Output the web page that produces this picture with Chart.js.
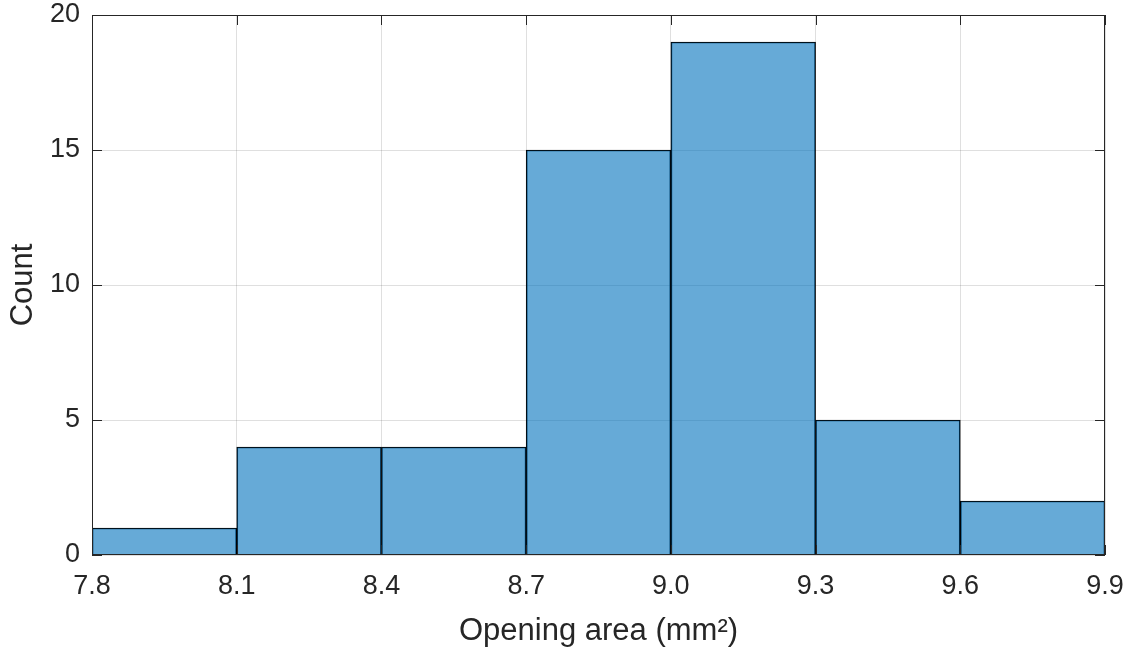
<!DOCTYPE html>
<html>
<head>
<meta charset="utf-8">
<script src="https://cdn.jsdelivr.net/npm/chart.js@4"></script>
<style>
  html, body { margin: 0; padding: 0; background: #fff; }
  #wrap { width: 1135px; height: 654px; }
</style>
</head>
<body>
<div id="wrap"><canvas id="histChart"></canvas></div>
<script>
// histogram bins (edges every 0.3 mm^2)
var binCenters = [7.95, 8.25, 8.55, 8.85, 9.15, 9.45, 9.75];
var counts = [1, 4, 4, 15, 19, 5, 2];
var xTicks = [7.8, 8.1, 8.4, 8.7, 9.0, 9.3, 9.6, 9.9];
var yTicks = [0, 5, 10, 15, 20];

var axisColor = '#262626';
var gridColor = 'rgba(38,38,38,0.15)';
var fontFamily = '"Liberation Sans", Arial, Helvetica, sans-serif';

// box around the axes with inward ticks, like MATLAB "box on"
var boxPlugin = {
    id: 'box',
    afterDraw: function(chart) {
        var ctx = chart.ctx;
        var a = chart.chartArea;
        var xs = chart.scales.x, ys = chart.scales.y;
        var len = 10;
        ctx.save();
        ctx.strokeStyle = axisColor;
        ctx.lineWidth = 1;
        ctx.strokeRect(a.left + 0.5, a.top + 0.5, a.right - a.left - 1, a.bottom - a.top - 1);
        ctx.beginPath();
        xTicks.forEach(function(v) {
            var px = Math.round(xs.getPixelForValue(v)) + 0.5;
            ctx.moveTo(px, a.bottom); ctx.lineTo(px, a.bottom - len);
            ctx.moveTo(px, a.top); ctx.lineTo(px, a.top + len);
        });
        yTicks.forEach(function(v) {
            var py = Math.round(ys.getPixelForValue(v)) + 0.5;
            ctx.moveTo(a.left, py); ctx.lineTo(a.left + len, py);
            ctx.moveTo(a.right, py); ctx.lineTo(a.right - len, py);
        });
        ctx.stroke();
        ctx.restore();
    }
};

var config = {
    type: 'bar',
    data: {
        datasets: [{
            data: binCenters.map(function(c, i) { return { x: c, y: counts[i] }; }),
            backgroundColor: 'rgba(0,114,189,0.6)',
            borderColor: '#000',
            borderWidth: 1,
            barPercentage: 1,
            categoryPercentage: 1
        }]
    },
    options: {
        responsive: true,
        maintainAspectRatio: false,
        animation: false,
        layout: { padding: { top: 15, right: 30, left: 0, bottom: 0 } },
        plugins: { legend: { display: false }, tooltip: { enabled: false } },
        scales: {
            x: {
                type: 'linear',
                offset: false,
                min: 7.8,
                max: 9.9,
                afterBuildTicks: function(s) { s.ticks = xTicks.map(function(v) { return { value: v }; }); },
                afterFit: function(s) { s.height = 99; s.paddingLeft = 0; s.paddingRight = 0; },
                ticks: {
                    color: axisColor,
                    padding: 15,
                    maxRotation: 0,
                    font: { family: fontFamily, size: 27 },
                    callback: function(v) { return Number(v).toFixed(1); }
                },
                grid: { color: gridColor, drawTicks: false, offset: false },
                border: { display: false },
                title: {
                    display: true,
                    text: 'Opening area (mm²)',
                    color: axisColor,
                    padding: { top: 0, bottom: 4 },
                    font: { family: fontFamily, size: 31 }
                }
            },
            y: {
                min: 0,
                max: 20,
                afterBuildTicks: function(s) { s.ticks = yTicks.map(function(v) { return { value: v }; }); },
                afterFit: function(s) { s.width = 92; s.paddingTop = 0; s.paddingBottom = 0; },
                ticks: {
                    color: axisColor,
                    padding: 12,
                    font: { family: fontFamily, size: 27 }
                },
                grid: { color: gridColor, drawTicks: false },
                border: { display: false },
                title: {
                    display: true,
                    text: 'Count',
                    color: axisColor,
                    padding: { top: 5, bottom: 0 },
                    font: { family: fontFamily, size: 31 }
                }
            }
        }
    },
    plugins: [boxPlugin]
};

var ctx = document.getElementById('histChart');
window.histChart = new Chart(ctx, config);
</script>
</body>
</html>
